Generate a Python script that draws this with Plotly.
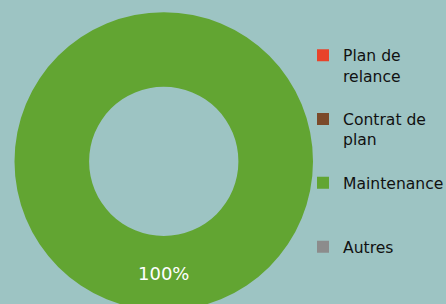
import plotly.graph_objects as go

categories = ["Plan de<br>relance<br> ", "Contrat de<br>plan<br> ", "Maintenance<br> <br> ", "Autres<br> <br> "]
values = [0, 0, 100, 0]
colors = ["#E8432A", "#7B4A2A", "#62A532", "#8C8C8C"]
text_templates = ["", "", "%{percent:.0%}", ""]

W, H = 446, 312
fig = go.Figure(go.Pie(
    labels=categories,
    values=values,
    marker=dict(colors=colors, line=dict(width=0)),
    hole=0.5,
    sort=False,
    direction="clockwise",
    rotation=0,
    texttemplate=text_templates,
    textposition="inside",
    insidetextorientation="horizontal",
    textfont=dict(color="white", size=18, family="DejaVu Sans"),
    domain=dict(x=[14.5 / W, 313 / W], y=[1 - 310.8 / H, 1 - 12 / H]),
))

fig.update_layout(
    width=W, height=H,
    margin=dict(l=0, r=0, t=0, b=0, autoexpand=False),
    paper_bgcolor="#9DC4C3",
    plot_bgcolor="#9DC4C3",
    showlegend=True,
    legend=dict(
        x=303 / W, xanchor="left",
        y=1 - 38.5 / H, yanchor="top",
        valign="top",
        font=dict(family="DejaVu Sans", size=15.6, color="#111111"),
        bgcolor="rgba(0,0,0,0)",
        borderwidth=0,
    ),
)

fig.write_html("out.html", config={"displayModeBar": False},
               post_script="document.body.style.margin='0';document.body.style.overflow='hidden';")
